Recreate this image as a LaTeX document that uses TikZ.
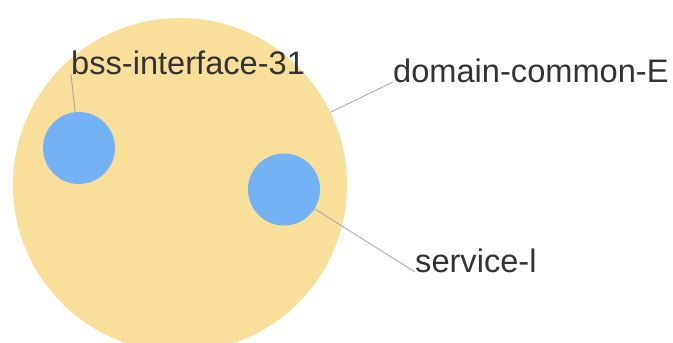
\documentclass[tikz,border=0pt]{standalone}
\usepackage{fontspec}
\setmainfont{Liberation Sans}
\usepackage{xcolor}
\definecolor{domainfill}{RGB}{248,223,154}
\definecolor{servicefill}{RGB}{116,178,246}
\definecolor{labeltext}{RGB}{51,51,51}
\definecolor{leadercolor}{RGB}{165,165,165}
\newcommand{\bigdiam}{334pt}
\newcommand{\smalldiam}{72pt}

\begin{document}
\begin{tikzpicture}[x=1pt, y=-1pt,
        domaincircle/.style={circle, fill=domainfill, minimum size=\bigdiam, inner sep=0pt},
        servicecircle/.style={circle, fill=servicefill, minimum size=\smalldiam, inner sep=0pt},
        tag/.style={anchor=base west, inner sep=0pt, text=labeltext,
            font=\fontsize{32.6}{39}\selectfont},
        leader/.style={draw=leadercolor, line width=0.8pt}]
        \useasboundingbox (0, 0) rectangle (673, 343);

        % circles
        \node[domaincircle] (dom) at (180, 185) {};
        \node[servicecircle] (bss) at (79, 148) {};
        \node[servicecircle] (svc) at (284, 189.5) {};

        % labels
        \node[tag] (bsstag) at (71, 74) {bss-interface-31};
        \node[tag] (domtag) at (393, 82) {domain-common-E};
        \node[tag] (svctag) at (415, 272) {service-l};

        % leader lines
        \draw[leader] (bsstag.base west) -- (bss);
        \draw[leader] (domtag.base west) -- (dom);
        \draw[leader] (svctag.base west) -- (svc);
    \end{tikzpicture}
\end{document}
